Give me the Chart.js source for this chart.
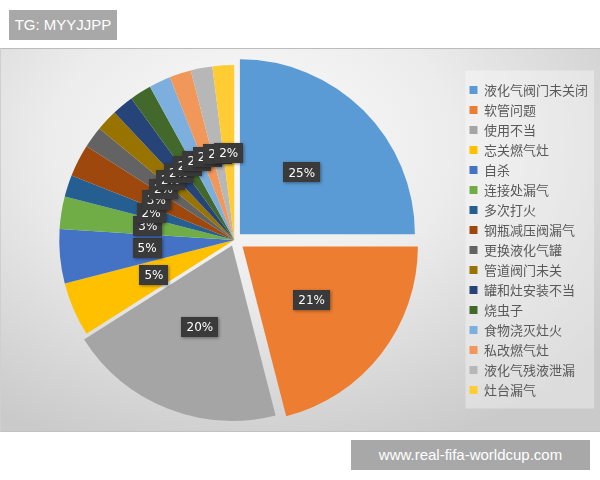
<!DOCTYPE html>
<html>
<head>
<meta charset="utf-8">
<script src="https://cdn.jsdelivr.net/npm/chart.js@4.4.1/dist/chart.umd.min.js"></script>
<style>
    html, body { margin: 0; padding: 0; width: 600px; height: 480px; overflow: hidden; background: #fff; }
    .tag {
        position: absolute; background: #a8a8a8; color: #fff; box-sizing: border-box;
        font-family: "Liberation Sans", Arial, sans-serif; font-size: 15px; line-height: 30px; text-align: center;
    }
    #tag-topo { left: 9px; top: 10px; width: 108px; height: 30px; }
    #tag-rodape { left: 351px; top: 440px; width: 239px; height: 30px; }
    #painel {
        position: absolute; left: 0; top: 48px; width: 600px; height: 384px; box-sizing: border-box;
        border-top: 1px solid #bcbcbc; border-bottom: 1px solid #c2c2c2; border-left: 1px solid #cfcfcf;
        background: radial-gradient(ellipse 75% 85% at 42% 25%, #fbfbfb 0%, #ececec 45%, #d6d6d6 80%, #cacaca 100%);
    }
    #grafico { position: absolute; left: 0; top: 0; }
</style>
</head>
<body>
<div id="tag-topo" class="tag">TG: MYYJJPP</div>
<div id="painel"><canvas id="grafico" width="600" height="382"></canvas></div>
<div id="tag-rodape" class="tag">www.real-fifa-worldcup.com</div>
<script>
// dados
const causas = ["液化气阀门未关闭", "软管问题", "使用不当", "忘关燃气灶", "自杀", "连接处漏气", "多次打火",
    "钢瓶减压阀漏气", "更换液化气罐", "管道阀门未关", "罐和灶安装不当", "烧虫子", "食物浇灭灶火",
    "私改燃气灶", "液化气残液泄漏", "灶台漏气"];
const percentuais = [25, 21, 20, 5, 5, 3, 2, 3, 2, 2, 2, 2, 2, 2, 2, 2];
const cores = ["#5B9BD5", "#ED7D31", "#A5A5A5", "#FFC000", "#4472C4", "#70AD47", "#255E91", "#9E480E",
    "#636363", "#997300", "#264478", "#43682B", "#7CAFDD", "#F1975A", "#B7B7B7", "#FFCD33"];
// fatias destacadas (o Chart.js v4 divide o offset por 4 ao desenhar)
const destaques = [32, 42, 24];

// caixa clara atrás da legenda
const fundoLegenda = {
    id: "fundoLegenda",
    beforeDraw(chart) {
        const caixas = chart.legend && chart.legend.legendHitBoxes;
        if (!caixas || !caixas.length) return;
        const esq = Math.min(...caixas.map(c => c.left)) - 4;
        const dir = Math.max(...caixas.map(c => c.left + c.width)) + 6;
        const topo = Math.min(...caixas.map(c => c.top)) - 13;
        const base = Math.max(...caixas.map(c => c.top + c.height)) + 12;
        const ctx = chart.ctx;
        ctx.save();
        ctx.fillStyle = "rgba(255,255,255,0.35)";
        ctx.fillRect(esq, topo, dir - esq, base - topo);
        ctx.restore();
    }
};

// rótulos de porcentagem em caixas escuras
const rotulos = {
    id: "rotulos",
    afterDatasetsDraw(chart) {
        const ctx = chart.ctx;
        const meta = chart.getDatasetMeta(0);
        ctx.save();
        ctx.font = '12px "DejaVu Sans", sans-serif';
        ctx.textAlign = "center";
        ctx.textBaseline = "middle";
        meta.data.forEach((arc, i) => {
            const p = arc.getProps(["x", "y", "startAngle", "endAngle", "outerRadius"], true);
            const meio = (p.startAngle + p.endAngle) / 2;
            const r = p.outerRadius / 2 + (arc.options.offset || 0) / 4;
            const px = p.x + Math.cos(meio) * r;
            const py = p.y + Math.sin(meio) * r;
            const texto = percentuais[i] + "%";
            const w = ctx.measureText(texto).width + 10;
            const h = 20;
            ctx.shadowColor = "rgba(0,0,0,0.4)";
            ctx.shadowBlur = 3;
            ctx.shadowOffsetX = 1;
            ctx.shadowOffsetY = 1;
            ctx.fillStyle = "#3a3a3a";
            ctx.fillRect(Math.round(px - w / 2), Math.round(py - h / 2), Math.round(w), h);
            ctx.shadowColor = "transparent";
            ctx.fillStyle = "#ffffff";
            ctx.fillText(texto, px, py + 1);
        });
        ctx.restore();
    }
};

new Chart(document.getElementById("grafico"), {
    type: "pie",
    data: {
        labels: causas,
        datasets: [{
            data: percentuais,
            backgroundColor: cores,
            borderWidth: 0,
            offset: (c) => destaques[c.dataIndex] || 0,
            radius: 175
        }]
    },
    options: {
        responsive: false,
        animation: false,
        layout: { padding: { left: 5, right: 3, top: 10, bottom: 10 } },
        plugins: {
            tooltip: { enabled: false },
            legend: {
                position: "right",
                labels: {
                    boxWidth: 8,
                    boxHeight: 8,
                    padding: 7,
                    color: "#595959",
                    font: { family: '"Noto Sans CJK SC", sans-serif', size: 13 }
                }
            }
        }
    },
    plugins: [fundoLegenda, rotulos]
});
</script>
</body>
</html>
